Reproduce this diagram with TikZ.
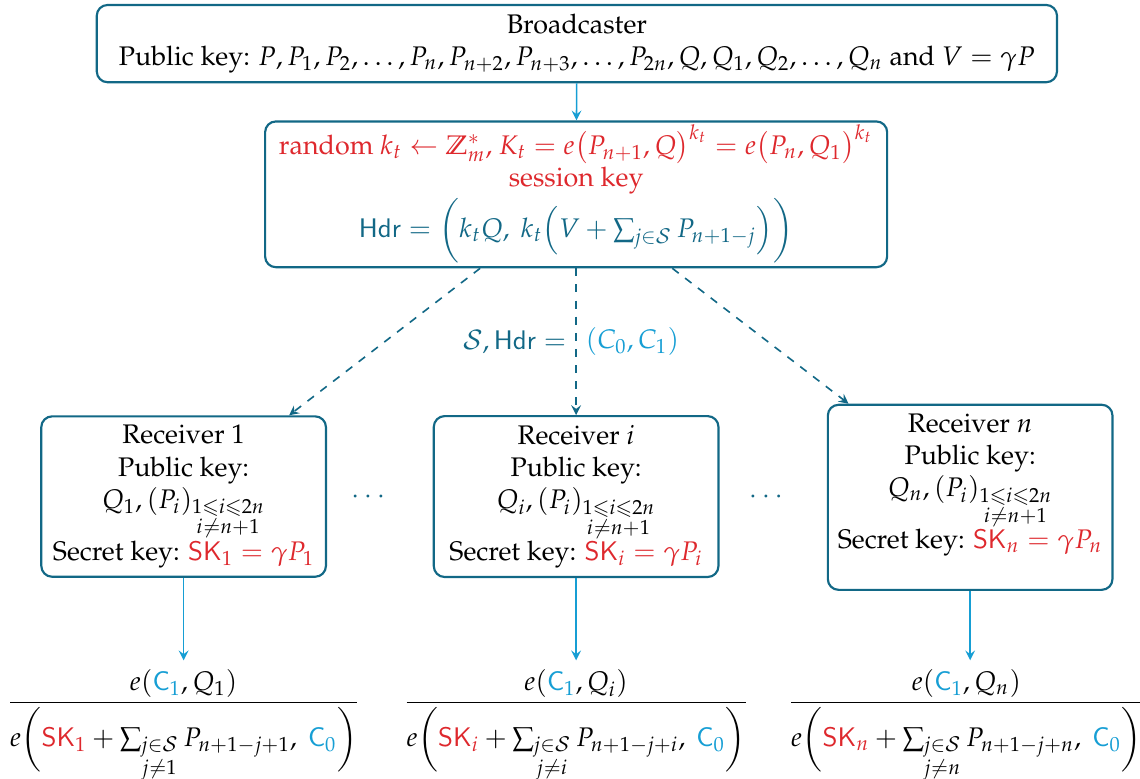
\documentclass[tikz,border=0pt]{standalone}
\usepackage[T1]{fontenc}
\usepackage{mathpazo}
\usepackage{amsmath,amssymb}

\definecolor{boxteal}{RGB}{18,104,134}
\definecolor{arrblue}{RGB}{22,158,212}
\definecolor{keyred}{RGB}{222,40,45}

\begin{document}
\begin{tikzpicture}[
        keybox/.style={draw=boxteal, thick, rounded corners, align=center},
        recbox/.style={keybox, minimum width=3.72cm},
        pairing/.style={anchor=north},
        flow/.style={-stealth, semithick, arrblue},
        bcast/.style={-stealth, semithick, dashed, boxteal}
    ]
            \useasboundingbox (0,0) rectangle (14.9,-10.17);

            \def\Xl{2.40};
            \def\Xm{7.53};
            \def\Xr{12.68};

            \def\Ytop{-0.57};
            \def\Yses{-2.54};
            \def\Yrec{-6.49};
            \def\Yfrac{-8.63}; % top of pairings

            % broadcaster
            \node[keybox, minimum width=12.55cm, minimum height=0.95cm] (brd) at (7.54, \Ytop)
                {Broadcaster\\ Public key: $P, P_1, P_2, \dots, P_n, P_{n+2}, P_{n+3}, \dots, P_{2n}, Q, Q_1, Q_2, \dots, Q_n$ and $V = \gamma P$};

            % session key and header
            \node[keybox, minimum width=8.13cm, minimum height=1.9cm, inner ysep=1pt] (ses) at (\Xm, \Yses)
                {\color{keyred} random $k_t \leftarrow \mathbb{Z}_m^*$, $K_t = e\bigl(P_{n+1}, Q\bigr)^{k_t} = e\bigl(P_n, Q_1\bigr)^{k_t}$\\
                 \color{keyred} session key\\
                 \color{boxteal} $\mathsf{Hdr} = \biggl(k_t Q,\ k_t\Bigl(V + \sum_{j\in\mathcal{S}} P_{n+1-j}\Bigr)\biggr)$};

            % receivers
            \node[recbox] (recA) at (\Xl, \Yrec)
                {Receiver 1\\ Public key:\\ $Q_1, (P_i)_{\substack{1\leqslant i\leqslant 2n\\ i\neq n+1}}$\\
                 Secret key: \textcolor{keyred}{$\mathsf{SK}_1 = \gamma P_1$}};
            \node[recbox] (recB) at (\Xm, \Yrec)
                {Receiver $i$\\ Public key:\\ $Q_i, (P_i)_{\substack{1\leqslant i\leqslant 2n\\ i\neq n+1}}$\\
                 Secret key: \textcolor{keyred}{$\mathsf{SK}_i = \gamma P_i$}};
            \node[recbox] (recC) at (\Xr, -6.50)
                {Receiver $n$\\ Public key:\\ $Q_n, (P_i)_{\substack{1\leqslant i\leqslant 2n\\ i\neq n+1}}$\\
                 Secret key: \textcolor{keyred}{$\mathsf{SK}_n = \gamma P_n$}\rule[-12pt]{0pt}{12pt}};

            % dots between receivers
            \node[boxteal] (dotsA) at (4.84, -6.50) {$\cdots$};
            \node[boxteal] (dotsB) at (10.04, -6.50) {$\cdots$};

            % pairings
            \node[pairing] (fracA) at (\Xl, \Yfrac)
                {$\dfrac{e(\textcolor{arrblue}{\mathsf{C}_1}, Q_1)}{e\biggl(\textcolor{keyred}{\mathsf{SK}_1} + \sum_{\substack{j\in\mathcal{S}\\ j\neq 1}} P_{n+1-j+1},\ \textcolor{arrblue}{\mathsf{C}_0}\biggr)}$};
            \node[pairing] (fracB) at (\Xm, \Yfrac)
                {$\dfrac{e(\textcolor{arrblue}{\mathsf{C}_1}, Q_i)}{e\biggl(\textcolor{keyred}{\mathsf{SK}_i} + \sum_{\substack{j\in\mathcal{S}\\ j\neq i}} P_{n+1-j+i},\ \textcolor{arrblue}{\mathsf{C}_0}\biggr)}$};
            \node[pairing] (fracC) at (12.63, \Yfrac)
                {$\dfrac{e(\textcolor{arrblue}{\mathsf{C}_1}, Q_n)}{e\biggl(\textcolor{keyred}{\mathsf{SK}_n} + \sum_{\substack{j\in\mathcal{S}\\ j\neq n}} P_{n+1-j+n},\ \textcolor{arrblue}{\mathsf{C}_0}\biggr)}$};

            % broadcaster to session
            \draw[flow] (brd) -- (ses);

            % header sent to all receivers
            \draw[bcast] (ses) -- (recA);
            \draw[bcast] (ses) -- (recB)
                node[midway, left, boxteal] (hdrL) {$\mathcal{S}, \mathsf{Hdr} =$}
                node[midway, right, arrblue] (hdrR) {$(C_0, C_1)$};
            \draw[bcast] (ses) -- (recC);

            % decryption
            \draw[flow] (recA.south) -- (recA.south |- fracA.north);
            \draw[flow] (recB.south) -- (recB.south |- fracB.north);
            \draw[flow] (recC.south) -- (recC.south |- fracC.north);

        \end{tikzpicture}
\end{document}
